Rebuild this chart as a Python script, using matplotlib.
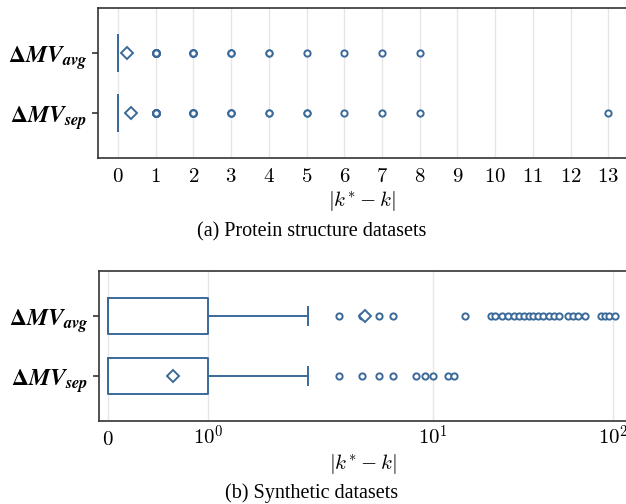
import numpy as np
import matplotlib
matplotlib.use("Agg")
import matplotlib.pyplot as plt

plt.rcParams['mathtext.fontset'] = 'cm'
plt.rcParams['font.family'] = 'Liberation Serif'

# row labels (top row first)
labels = [r'$\mathbf{\Delta}\boldsymbol{MV}_{\boldsymbol{avg}}$',
          r'$\mathbf{\Delta}\boldsymbol{MV}_{\boldsymbol{sep}}$']

# (a) protein structure datasets: |k*-k| values and how often they occur
prot_avg_vals = [0, 1, 2, 3, 4, 5, 6, 7, 8]
prot_avg_cnts = [250, 15, 6, 3, 2, 1, 1, 1, 1]
prot_sep_vals = [0, 1, 2, 3, 4, 5, 6, 7, 8, 13]
prot_sep_cnts = [250, 18, 8, 4, 2, 2, 1, 1, 1, 1]

# (b) synthetic datasets
syn_avg_vals = [0, 1, 2, 3, 4, 5, 6, 15,
                21, 22, 24, 26, 28, 30, 32, 34, 36, 38, 41, 44, 47, 50,
                56, 60, 64, 70, 86, 90, 95, 102]
syn_avg_cnts = [166, 91, 20] + [1] * 27
syn_sep_vals = [0, 1, 2, 3, 4, 5, 6, 8, 9, 10, 12, 13]
syn_sep_cnts = [191, 75, 25, 1, 1, 1, 1, 1, 1, 1, 1, 1]

color = '#3b6a9a'

fig = plt.figure(figsize=(6.26, 5.04), dpi=100)
ax1 = fig.add_axes([98/626, 346/504, 528/626, 150/504])
ax2 = fig.add_axes([99/626, 83/504, 527/626, 150/504])


def draw(ax, data):
    ax.boxplot(data, positions=[0, 1], vert=False, widths=0.6, whis=1.5,
               showmeans=True, patch_artist=False,
               boxprops=dict(color=color, lw=1.4),
               whiskerprops=dict(color=color, lw=1.4),
               capprops=dict(color=color, lw=1.4),
               medianprops=dict(color=color, lw=1.4),
               meanprops=dict(marker='D', markerfacecolor='white',
                              markeredgecolor=color, markersize=6, markeredgewidth=1.4),
               flierprops=dict(marker='o', markerfacecolor='white',
                               markeredgecolor=color, markersize=4.5, markeredgewidth=1.4))
    ax.set_ylim(1.75, -0.75)
    ax.set_yticks([0, 1])
    ax.set_yticklabels(labels, fontsize=17, math_fontfamily='stix', va='center_baseline')
    ax.grid(axis='x', color='#e6e6e6', lw=1)
    ax.set_axisbelow(True)
    for s in ['left', 'top', 'bottom']:
        ax.spines[s].set_color('#333333')
        ax.spines[s].set_linewidth(1.2)
    ax.spines['right'].set_visible(False)
    ax.tick_params(axis='x', length=0, pad=17, labelsize=15)
    ax.tick_params(axis='y', length=4, width=1.2, color='#333333')
    ax.set_xlabel(r'$|k^{*} - k|$', fontsize=15, labelpad=2)


draw(ax1, [np.repeat(prot_avg_vals, prot_avg_cnts), np.repeat(prot_sep_vals, prot_sep_cnts)])
ax1.set_xlim(-0.53, 13.47)
ax1.set_xticks(range(14))
ax1.set_xticklabels(['$%d$' % i for i in range(14)], va='baseline')

draw(ax2, [np.repeat(syn_avg_vals, syn_avg_cnts), np.repeat(syn_sep_vals, syn_sep_cnts)])
ax2.set_xscale('symlog', linthresh=2, linscale=1)
ax2.set_xlim(-0.09, 118)
ax2.set_xticks([0, 1, 10, 100])
ax2.set_xticklabels(['$0$', '$10^0$', '$10^1$', '$10^2$'], va='baseline')
ax2.xaxis.set_minor_locator(matplotlib.ticker.NullLocator())

fig.text(312/626, 1 - 232/504, '(a) Protein structure datasets', ha='center', va='center', fontsize=14.5)
fig.text(312/626, 1 - 493/504, '(b) Synthetic datasets', ha='center', va='center', fontsize=14.5)

fig.savefig('out.png', dpi=100)
